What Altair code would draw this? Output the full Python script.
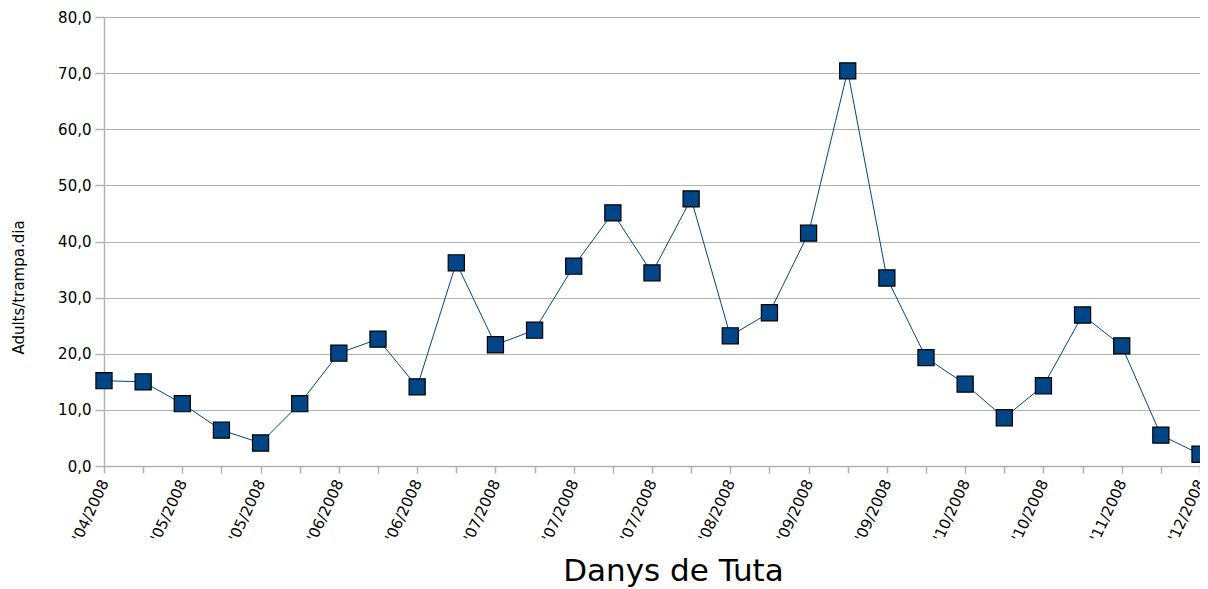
import json
import altair as alt
import pandas as pd

values = [15.2, 15.0, 11.1, 6.4, 4.1, 11.1, 20.1, 22.6, 14.1, 36.2,
          21.6, 24.2, 35.6, 45.1, 34.4, 47.6, 23.2, 27.3, 41.5, 70.4,
          33.5, 19.3, 14.6, 8.6, 14.3, 26.9, 21.4, 5.5, 2.1]

tick_labels = ["'04/2008", "", "'05/2008", "", "'05/2008", "", "'06/2008", "",
               "'06/2008", "", "'07/2008", "", "'07/2008", "", "'07/2008", "",
               "'08/2008", "", "'09/2008", "", "'09/2008", "", "'10/2008", "",
               "'10/2008", "", "'11/2008", "", "'12/2008"]

df = pd.DataFrame({"idx": list(range(len(values))), "val": values})

label_expr = "[" + ",".join(json.dumps(l) for l in tick_labels) + "][datum.value]"

FONT = "DejaVu Sans"
GRAY = "#b3b3b3"
BLUE = "#004586"

x_enc = alt.X(
    "idx:Q",
    scale=alt.Scale(domain=[0, len(values) - 1], nice=False, zero=False),
    axis=alt.Axis(
        values=list(range(len(values))),
        labelExpr=label_expr,
        labelAngle=295,
        labelAlign="right",
        labelBaseline="middle",
        labelFont=FONT,
        labelFontSize=15,
        labelColor="#000000",
        labelPadding=7,
        labelOverlap=False,
        labelFlush=False,
        labelBound=False,
        grid=False,
        tickColor=GRAY,
        tickSize=7,
        tickWidth=1.5,
        domainColor=GRAY,
        domainWidth=1.5,
        title="Danys de Tuta",
        titleFont=FONT,
        titleFontSize=31,
        titleFontWeight="normal",
        titleColor="#000000",
        titleX=569,
        titleY=114,
        titleBaseline="alphabetic",
        titleAlign="center",
    ),
)

y_enc = alt.Y(
    "val:Q",
    scale=alt.Scale(domain=[0, 80], nice=False),
    axis=alt.Axis(
        values=[0, 10, 20, 30, 40, 50, 60, 70, 80],
        labelExpr="replace(format(datum.value, '.1f'), '.', ',')",
        labelFont=FONT,
        labelFontSize=15,
        labelColor="#000000",
        labelPadding=4,
        grid=True,
        gridColor=GRAY,
        gridWidth=1.2,
        tickColor=GRAY,
        tickSize=9,
        tickWidth=1.5,
        domainColor=GRAY,
        domainWidth=1.5,
        title="Adults/trampa.dia",
        titleFont=FONT,
        titleFontSize=15,
        titleFontWeight="normal",
        titleColor="#000000",
        titleX=-78,
        titleY=270,
        titleAngle=270,
        titleAlign="center",
        titleBaseline="bottom",
    ),
)

base = alt.Chart(df).encode(x=x_enc, y=y_enc)

line = base.mark_line(color=BLUE, strokeWidth=1)
pts = base.mark_square(size=260, color=BLUE, stroke="#000000", strokeWidth=1.2, opacity=1)

chart = (line + pts).properties(
    width=1096,
    height=449,
    padding={"left": 96, "top": 9, "right": 0, "bottom": 122},
    autosize=alt.AutoSizeParams(type="none"),
    background="white",
).configure_view(stroke=None)

chart.save("out.html", embed_options={"renderer": "svg", "actions": False})
